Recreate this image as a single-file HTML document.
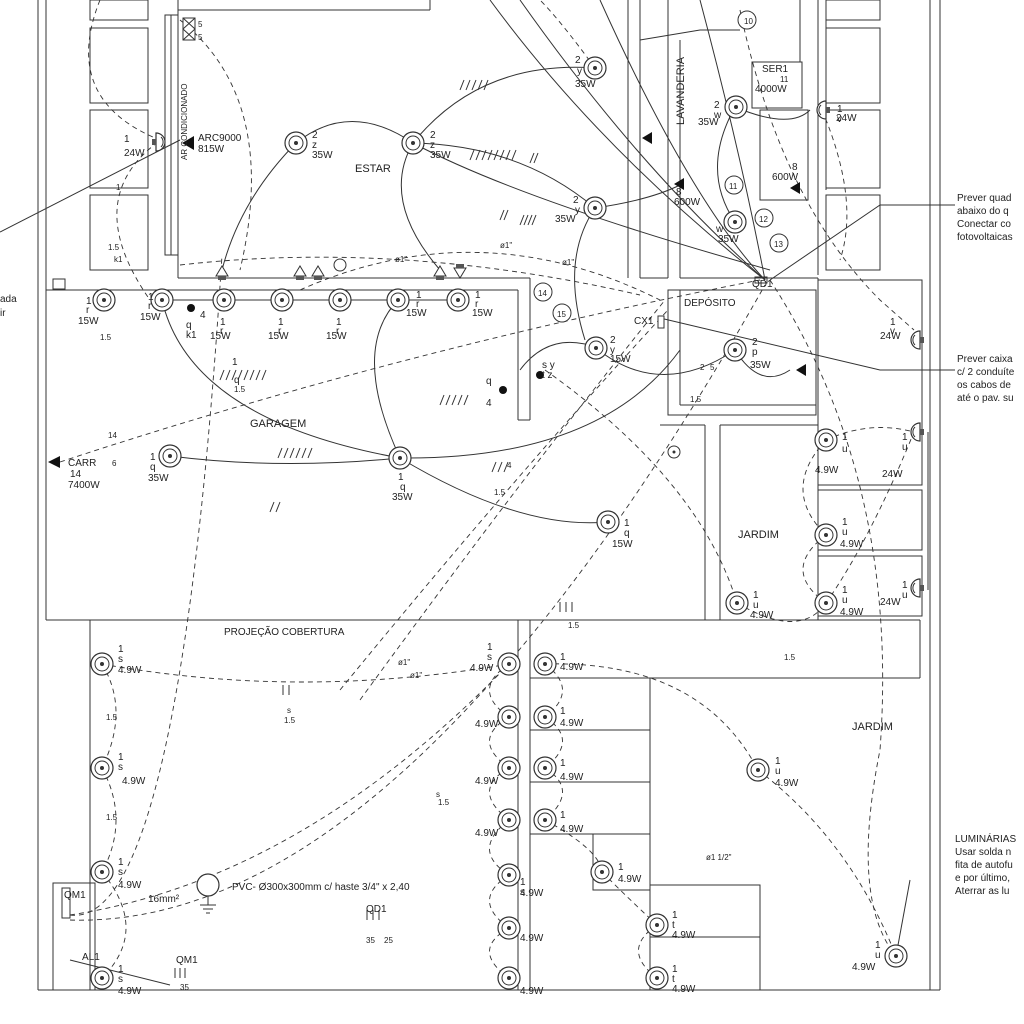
<!DOCTYPE html>
<html><head><meta charset="utf-8"><style>
html,body{margin:0;padding:0;background:#fff;}
svg{display:block;font-family:"Liberation Sans",sans-serif;}
text{fill:#222;font-size:10px;}
.s{font-size:8px;}
.l{font-size:11px;}
</style></head><body>
<svg width="1024" height="1024" viewBox="0 0 1024 1024" xmlns="http://www.w3.org/2000/svg">
<defs>
<g id="f"><circle r="11" fill="#fff" stroke="#333" stroke-width="1.2"/><circle r="7" fill="none" stroke="#333"/><circle r="2" fill="#333"/></g>
<g id="w"><path d="M0,-9 A9,9 0 0 0 0,9 Z" fill="#fff" stroke="#333" stroke-width="1.2"/><path d="M-5,-5 A7,7 0 0 0 -5,5" fill="none" stroke="#333"/><rect x="0" y="-3" width="4" height="6" fill="#555"/></g>
<g id="t"><path d="M-6,0 L0,-10 L6,0 Z" fill="#fff" stroke="#333"/><rect x="-4" y="0" width="8" height="4" fill="#555"/></g>
</defs>
<g fill="none" stroke="#333" stroke-width="1">
<!-- outer walls -->
<line x1="38" y1="0" x2="38" y2="990"/><line x1="46" y1="0" x2="46" y2="620"/>
<line x1="930" y1="0" x2="930" y2="990"/><line x1="940" y1="0" x2="940" y2="990"/>
<line x1="38" y1="990" x2="940" y2="990"/>
<!-- left rooms top -->
<rect x="90" y="0" width="58" height="20"/><rect x="90" y="28" width="58" height="75"/>
<rect x="90" y="110" width="58" height="78"/><rect x="90" y="195" width="58" height="75"/>
<rect x="165" y="15" width="13" height="240"/><line x1="171" y1="15" x2="171" y2="255"/>
<line x1="178" y1="0" x2="178" y2="278"/><line x1="178" y1="278" x2="530" y2="278"/>
<line x1="178" y1="0" x2="178" y2="10"/><line x1="430" y1="0" x2="430" y2="10"/><line x1="178" y1="10" x2="430" y2="10"/>
<line x1="46" y1="290" x2="518" y2="290"/>
<line x1="518" y1="290" x2="518" y2="420"/><line x1="530" y1="278" x2="530" y2="420"/><line x1="518" y1="420" x2="530" y2="420"/>
<line x1="628" y1="0" x2="628" y2="278"/><line x1="640" y1="0" x2="640" y2="278"/>
<line x1="668" y1="0" x2="668" y2="278"/><line x1="680" y1="40" x2="680" y2="278"/>
<line x1="640" y1="278" x2="668" y2="278"/>
<rect x="752" y="62" width="50" height="46"/><rect x="760" y="110" width="48" height="90"/>
<line x1="800" y1="0" x2="800" y2="62"/><line x1="818" y1="0" x2="818" y2="275"/><line x1="826" y1="0" x2="826" y2="190"/>
<rect x="826" y="0" width="54" height="20"/><rect x="826" y="28" width="54" height="75"/><rect x="826" y="110" width="54" height="78"/><rect x="826" y="195" width="54" height="75"/>
<line x1="680" y1="278" x2="818" y2="278"/>
<rect x="668" y="290" width="148" height="125"/><line x1="680" y1="290" x2="680" y2="405"/><line x1="680" y1="405" x2="816" y2="405"/>
<line x1="720" y1="425" x2="720" y2="620"/><line x1="720" y1="425" x2="818" y2="425"/><line x1="818" y1="278" x2="818" y2="620"/>
<line x1="660" y1="425" x2="705" y2="425"/><line x1="705" y1="425" x2="705" y2="620"/>
<rect x="818" y="280" width="104" height="205"/><rect x="818" y="490" width="104" height="60"/><rect x="818" y="556" width="104" height="60"/>
<line x1="46" y1="620" x2="920" y2="620"/><line x1="90" y1="620" x2="90" y2="990"/>
<line x1="920" y1="620" x2="920" y2="678"/><line x1="530" y1="678" x2="920" y2="678"/>
<line x1="518" y1="620" x2="518" y2="990"/><line x1="530" y1="620" x2="530" y2="990"/>
<rect x="530" y="678" width="120" height="52"/><rect x="530" y="730" width="120" height="52"/><rect x="530" y="782" width="120" height="52"/>
<rect x="593" y="834" width="57" height="56"/><line x1="650" y1="678" x2="650" y2="990"/>
<rect x="650" y="885" width="110" height="52"/><rect x="650" y="937" width="110" height="53"/>
<rect x="53" y="883" width="42" height="107"/><rect x="62" y="888" width="8" height="30"/>
<rect x="755" y="277" width="12" height="6"/>
<rect x="53" y="279" width="12" height="10"/>
</g>
<!-- solid circuits -->
<g fill="none" stroke="#333" stroke-width="1">
<path d="M296,143 Q350,100 413,143"/><path d="M296,143 Q240,200 222,270"/>
<path d="M413,143 Q520,145 595,208"/><path d="M413,143 Q520,200 770,270"/>
<path d="M413,143 Q380,200 440,270"/><path d="M413,143 Q480,60 595,68"/>
<path d="M595,208 Q650,200 680,185"/><path d="M595,208 Q560,260 585,340"/>
<path d="M162,300 Q190,420 400,458"/><path d="M400,458 Q350,350 398,300"/>
<path d="M400,458 Q520,530 608,522"/><path d="M400,458 Q600,460 680,350"/>
<path d="M170,456 Q280,470 400,458"/><path d="M162,300 L458,300"/>
<path d="M596,348 Q660,400 735,350"/><path d="M735,350 Q760,390 790,370"/>
<path d="M735,107 Q700,170 735,222"/><path d="M735,107 Q790,130 810,110"/>
<path d="M520,370 Q550,330 598,348"/>
<path d="M0,232 L180,140"/>
<path d="M770,280 L880,205 L955,205"/><path d="M660,318 L880,370 L955,370"/>
<path d="M896,956 L910,880"/>
<path d="M490,0 Q600,150 765,280"/><path d="M520,0 Q640,170 765,280"/><path d="M600,0 Q690,200 765,280"/><path d="M700,0 Q740,150 765,280"/>
<path d="M640,40 L700,30 L740,30"/><path d="M70,960 L170,985"/>
</g>
<!-- dashed circuits -->
<g fill="none" stroke="#333" stroke-width="0.9" stroke-dasharray="5,4">
<path d="M180,265 Q400,240 640,295"/><path d="M300,290 Q480,210 660,300"/>
<path d="M60,462 Q400,350 760,280"/><path d="M360,700 Q520,480 665,300"/>
<path d="M340,690 Q520,470 668,310"/><path d="M70,920 Q400,930 765,285"/>
<path d="M70,915 Q300,880 509,664"/><path d="M102,664 Q300,700 509,664"/>
<path d="M102,664 Q130,710 102,768"/><path d="M102,768 Q130,820 102,872"/>
<path d="M102,872 Q150,930 102,978"/><path d="M70,915 Q180,930 222,255"/>
<path d="M509,664 Q470,690 509,717"/><path d="M509,717 Q470,740 509,768"/><path d="M509,768 Q470,790 509,820"/><path d="M509,820 Q470,850 509,875"/><path d="M509,875 Q470,900 509,928"/><path d="M509,928 Q470,950 509,978"/>
<path d="M545,664 Q580,690 545,717"/><path d="M545,717 Q580,740 545,768"/><path d="M545,768 Q580,790 545,820"/>
<path d="M545,820 Q600,850 602,872"/><path d="M602,872 Q630,900 657,925"/><path d="M657,925 Q620,950 657,978"/>
<path d="M545,664 Q700,660 758,770"/><path d="M758,770 Q850,840 896,956"/>
<path d="M545,370 Q700,480 737,603"/><path d="M737,603 Q800,640 826,603"/>
<path d="M826,440 Q780,490 826,535"/><path d="M826,535 Q780,570 826,603"/>
<path d="M826,440 Q870,420 914,432"/><path d="M826,603 Q870,540 914,432"/>
<path d="M770,280 Q900,480 880,750 Q850,900 896,956"/>
<path d="M740,10 Q780,200 880,300 L914,330"/>
<path d="M100,0 Q60,100 160,140"/><path d="M180,20 Q280,100 240,270"/>
<path d="M158,142 Q80,200 150,300"/>
<path d="M595,68 Q560,20 540,0"/>
<path d="M822,110 Q860,200 840,260"/>
</g>
<line x1="928" y1="432" x2="928" y2="590" stroke="#333"/>
<!-- fixtures -->
<g>
<use href="#f" x="296" y="143"/><use href="#f" x="413" y="143"/><use href="#f" x="595" y="68"/><use href="#f" x="595" y="208"/>
<use href="#f" x="736" y="107"/><use href="#f" x="735" y="222"/>
<use href="#f" x="162" y="300"/><use href="#f" x="224" y="300"/><use href="#f" x="282" y="300"/><use href="#f" x="340" y="300"/><use href="#f" x="398" y="300"/><use href="#f" x="458" y="300"/>
<use href="#f" x="104" y="300"/>
<use href="#f" x="400" y="458"/><use href="#f" x="170" y="456"/><use href="#f" x="608" y="522"/><use href="#f" x="596" y="348"/><use href="#f" x="735" y="350"/>
<use href="#f" x="826" y="440"/><use href="#f" x="826" y="535"/><use href="#f" x="826" y="603"/><use href="#f" x="737" y="603"/>
<use href="#f" x="102" y="664"/><use href="#f" x="102" y="768"/><use href="#f" x="102" y="872"/><use href="#f" x="102" y="978"/>
<use href="#f" x="509" y="664"/><use href="#f" x="509" y="717"/><use href="#f" x="509" y="768"/><use href="#f" x="509" y="820"/><use href="#f" x="509" y="875"/><use href="#f" x="509" y="928"/><use href="#f" x="509" y="978"/>
<use href="#f" x="545" y="664"/><use href="#f" x="545" y="717"/><use href="#f" x="545" y="768"/><use href="#f" x="545" y="820"/>
<use href="#f" x="602" y="872"/><use href="#f" x="657" y="925"/><use href="#f" x="657" y="978"/>
<use href="#f" x="758" y="770"/><use href="#f" x="896" y="956"/>
<use href="#w" x="164" y="142" transform="rotate(180 160 142)"/>
<use href="#w" x="920" y="340"/><use href="#w" x="920" y="432"/><use href="#w" x="920" y="588"/><use href="#w" x="826" y="110"/>
<use href="#t" x="222" y="276"/><use href="#t" x="440" y="276"/><use href="#t" x="460" y="276" transform="rotate(180 460 272)"/><use href="#t" x="300" y="276"/><use href="#t" x="318" y="276"/>
<circle cx="340" cy="265" r="6" fill="#fff" stroke="#333"/>
<circle cx="191" cy="308" r="4" fill="#111"/><circle cx="503" cy="390" r="4" fill="#111"/><circle cx="540" cy="375" r="4" fill="#111"/>
<circle cx="674" cy="452" r="6" fill="#fff" stroke="#333"/><circle cx="674" cy="452" r="1.5" fill="#333"/>
<circle cx="208" cy="885" r="11" fill="#fff" stroke="#333" stroke-width="1.2"/>
<path d="M208,896 L208,905 M200,905 L216,905 M203,909 L213,909 M206,913 L210,913" stroke="#333"/>
<path d="M182,143 L194,136 L194,150 Z" fill="#111"/><path d="M48,462 L60,456 L60,468 Z" fill="#111"/>
<path d="M642,138 L652,132 L652,144 Z" fill="#111"/><path d="M674,184 L684,178 L684,190 Z" fill="#111"/>
<path d="M796,370 L806,364 L806,376 Z" fill="#111"/><path d="M790,188 L800,182 L800,194 Z" fill="#111"/>
<rect x="183" y="18" width="12" height="22" fill="#fff" stroke="#333"/><path d="M183,18 L195,29 L183,40 M195,18 L183,29 L195,40" stroke="#333" fill="none"/>
<rect x="658" y="316" width="6" height="12" fill="#fff" stroke="#333"/>
<circle cx="747" cy="20" r="9" fill="#fff" stroke="#333"/><circle cx="734" cy="185" r="9" fill="#fff" stroke="#333"/><circle cx="764" cy="218" r="9" fill="#fff" stroke="#333"/><circle cx="779" cy="243" r="9" fill="#fff" stroke="#333"/><circle cx="543" cy="292" r="9" fill="#fff" stroke="#333"/><circle cx="562" cy="313" r="9" fill="#fff" stroke="#333"/>
</g>
<!-- tick marks -->
<g stroke="#333" stroke-width="1">
<path d="M470,160 l4,-10 M476,160 l4,-10 M482,160 l4,-10 M488,160 l4,-10 M494,160 l4,-10 M500,160 l4,-10 M506,160 l4,-10 M512,160 l4,-10 M530,163 l4,-10 M534,163 l4,-10"/>
<path d="M500,220 l4,-10 M504,220 l4,-10 M520,225 l4,-10 M524,225 l4,-10 M528,225 l4,-10 M532,225 l4,-10"/>
<path d="M220,380 l4,-10 M226,380 l4,-10 M232,380 l4,-10 M238,380 l4,-10 M244,380 l4,-10 M250,380 l4,-10 M256,380 l4,-10 M262,380 l4,-10"/>
<path d="M278,458 l4,-10 M284,458 l4,-10 M290,458 l4,-10 M296,458 l4,-10 M302,458 l4,-10 M308,458 l4,-10"/>
<path d="M440,405 l4,-10 M446,405 l4,-10 M452,405 l4,-10 M458,405 l4,-10 M464,405 l4,-10"/>
<path d="M492,472 l4,-10 M498,472 l4,-10 M504,472 l4,-10"/>
<path d="M460,90 l4,-10 M466,90 l4,-10 M472,90 l4,-10 M478,90 l4,-10 M484,90 l4,-10"/>
<path d="M283,695 l0,-10 M289,695 l0,-10 M367,920 l0,-10 M373,920 l0,-10 M379,920 l0,-10 M175,978 l0,-10 M180,978 l0,-10 M185,978 l0,-10"/>
<path d="M560,612 l0,-10 M566,612 l0,-10 M572,612 l0,-10 M270,512 l4,-10 M276,512 l4,-10"/>
</g>
<!-- labels -->
<g>
<text x="198" y="27" class="s">5</text><text x="198" y="40" class="s">5</text>
<text x="198" y="141">ARC9000</text><text x="198" y="152">815W</text>
<text x="124" y="142">1</text><text x="124" y="156">24W</text>
<text transform="translate(187,160) rotate(-90)" class="s">AR CONDICIONADO</text>
<text x="312" y="138">2</text><text x="312" y="148">z</text><text x="312" y="158">35W</text>
<text x="430" y="138">2</text><text x="430" y="148">z</text><text x="430" y="158">35W</text>
<text x="575" y="63">2</text><text x="577" y="74">y</text><text x="575" y="87">35W</text>
<text x="573" y="203">2</text><text x="575" y="213">y</text><text x="555" y="222">35W</text>
<text x="355" y="172" class="l">ESTAR</text>
<text transform="translate(684,125) rotate(-90)" class="l">LAVANDERIA</text>
<text x="762" y="72">SER1</text><text x="780" y="82" class="s">11</text><text x="755" y="92">4000W</text>
<text x="714" y="108">2</text><text x="714" y="118">w</text><text x="698" y="125">35W</text>
<text x="837" y="112">1</text><text x="837" y="122">v</text><text x="836" y="122"></text><text x="836" y="122"></text><text x="836" y="123"> </text><text x="836" y="122"></text>
<text x="836" y="122"></text><text x="836" y="122"></text><text x="836" y="122"></text><text x="836" y="123"></text>
<text x="836" y="122"></text>
<text x="836" y="122"></text>
<text x="836" y="122"></text>
<text x="836" y="122"></text>
<text x="836" y="122"></text>
<text x="836" y="122"></text>
<text x="836" y="121">24W</text>
<text x="792" y="170">8</text><text x="772" y="180">600W</text>
<text x="676" y="195">8</text><text x="674" y="205">600W</text>
<text x="716" y="232">w</text><text x="718" y="242">35W</text>
<text x="744" y="24" class="s">10</text><text x="729" y="189" class="s">11</text><text x="759" y="222" class="s">12</text><text x="774" y="247" class="s">13</text><text x="538" y="296" class="s">14</text><text x="557" y="317" class="s">15</text>
<text x="752" y="287">QD1</text><text x="684" y="306">DEPÓSITO</text><text x="634" y="324">CX1</text>
<text x="395" y="262" class="s">ø1"</text><text x="500" y="248" class="s">ø1"</text><text x="562" y="265" class="s">ø1"</text>
<text x="86" y="304">1</text><text x="86" y="313">r</text><text x="78" y="324">15W</text>
<text x="148" y="300">1</text><text x="148" y="309">r</text><text x="140" y="320">15W</text>
<text x="220" y="325">1</text><text x="220" y="334">r</text><text x="210" y="339">15W</text>
<text x="278" y="325">1</text><text x="278" y="334">r</text><text x="268" y="339">15W</text>
<text x="336" y="325">1</text><text x="336" y="334">r</text><text x="326" y="339">15W</text>
<text x="416" y="298">1</text><text x="416" y="307">r</text><text x="406" y="316">15W</text>
<text x="475" y="298">1</text><text x="475" y="307">r</text><text x="472" y="316">15W</text>
<text x="186" y="328">q</text><text x="186" y="338">k1</text><text x="200" y="318">4</text>
<text x="232" y="365">1</text><text x="234" y="383">q</text><text x="234" y="392" class="s">1.5</text>
<text x="250" y="427" class="l">GARAGEM</text>
<text x="68" y="466">CARR</text><text x="70" y="477">14</text><text x="68" y="488">7400W</text>
<text x="150" y="460">1</text><text x="150" y="470">q</text><text x="148" y="481">35W</text>
<text x="398" y="480">1</text><text x="400" y="490">q</text><text x="392" y="500">35W</text>
<text x="624" y="526">1</text><text x="624" y="536">q</text><text x="612" y="547">15W</text>
<text x="610" y="343">2</text><text x="610" y="353">y</text><text x="610" y="362">15W</text>
<text x="752" y="345">2</text><text x="752" y="355">p</text><text x="750" y="368">35W</text>
<text x="486" y="384">q</text><text x="486" y="406">4</text><text x="542" y="368">s y</text><text x="542" y="378">t z</text>
<text x="738" y="538" class="l">JARDIM</text>
<text x="842" y="440">1</text><text x="842" y="452">u</text><text x="815" y="473">4.9W</text>
<text x="902" y="440">1</text><text x="902" y="450">u</text><text x="882" y="477">24W</text>
<text x="842" y="525">1</text><text x="842" y="535">u</text><text x="840" y="547">4.9W</text>
<text x="842" y="593">1</text><text x="842" y="603">u</text><text x="840" y="615">4.9W</text>
<text x="902" y="588">1</text><text x="902" y="598">u</text><text x="880" y="605">24W</text>
<text x="753" y="598">1</text><text x="753" y="608">u</text><text x="750" y="618">4.9W</text>
<text x="890" y="325">1</text><text x="890" y="334">v</text><text x="880" y="339">24W</text>
<text x="224" y="635">PROJEÇÃO COBERTURA</text>
<text x="118" y="652">1</text><text x="118" y="662">s</text><text x="118" y="673">4.9W</text>
<text x="118" y="760">1</text><text x="118" y="770">s</text><text x="122" y="784">4.9W</text>
<text x="118" y="865">1</text><text x="118" y="875">s</text><text x="118" y="888">4.9W</text>
<text x="118" y="972">1</text><text x="118" y="982">s</text><text x="118" y="994">4.9W</text>
<text x="487" y="650">1</text><text x="487" y="660">s</text><text x="470" y="671">4.9W</text>
<text x="475" y="727">4.9W</text><text x="475" y="784">4.9W</text><text x="475" y="836">4.9W</text>
<text x="520" y="885">1</text><text x="520" y="895">s</text><text x="520" y="895"></text><text x="520" y="895"></text><text x="520" y="894"></text><text x="520" y="895"></text>
<text x="520" y="897"></text><text x="518" y="896"></text><text x="518" y="896"></text><text x="518" y="896"></text>
<text x="519" y="896"></text><text x="522" y="896"></text>
<text x="520" y="896"></text>
<text x="521" y="896"></text>
<text x="520" y="896">4.9W</text>
<text x="520" y="941">4.9W</text><text x="520" y="994">4.9W</text>
<text x="560" y="660">1</text><text x="560" y="670">4.9W</text>
<text x="560" y="714">1</text><text x="560" y="726">4.9W</text>
<text x="560" y="766">1</text><text x="560" y="780">4.9W</text>
<text x="560" y="818">1</text><text x="560" y="832">4.9W</text>
<text x="618" y="870">1</text><text x="618" y="882">4.9W</text>
<text x="672" y="918">1</text><text x="672" y="928">t</text><text x="672" y="938">4.9W</text>
<text x="672" y="972">1</text><text x="672" y="982">t</text><text x="672" y="992">4.9W</text>
<text x="852" y="730" class="l">JARDIM</text>
<text x="775" y="764">1</text><text x="775" y="774">u</text><text x="775" y="786">4.9W</text>
<text x="875" y="948">1</text><text x="875" y="958">u</text><text x="852" y="970">4.9W</text>
<text x="706" y="860" class="s">ø1 1/2"</text>
<text x="398" y="665" class="s">ø1"</text><text x="410" y="678" class="s">ø1"</text>
<text x="232" y="890">PVC- Ø300x300mm c/ haste 3/4" x 2,40</text>
<text x="148" y="902">16mm²</text>
<text x="366" y="912">QD1</text><text x="366" y="943" class="s">35</text><text x="384" y="943" class="s">25</text>
<text x="64" y="898">QM1</text><text x="82" y="960">AL1</text>
<text x="176" y="963">QM1</text><text x="180" y="990" class="s">35</text>
<text x="287" y="713" class="s">s</text><text x="284" y="723" class="s">1.5</text>
<text x="436" y="797" class="s">s</text><text x="438" y="805" class="s">1.5</text>
<text x="568" y="628" class="s">1.5</text>
<text x="0" y="302">ada</text><text x="0" y="316">ir</text>
<text x="957" y="201">Prever quad</text><text x="957" y="214">abaixo do q</text><text x="957" y="227">Conectar co</text><text x="957" y="240">fotovoltaicas</text>
<text x="957" y="362">Prever caixa</text><text x="957" y="375">c/ 2 conduíte</text><text x="957" y="388">os cabos de</text><text x="957" y="401">até o pav. su</text>
<text x="955" y="842">LUMINÁRIAS</text><text x="955" y="855">Usar solda n</text><text x="955" y="868">fita de autofu</text><text x="955" y="881">e por último,</text><text x="955" y="894">Aterrar as lu</text>
<text x="116" y="190" class="s">1</text><text x="108" y="250" class="s">1.5</text><text x="114" y="262" class="s">k1</text>
<text x="100" y="340" class="s">1.5</text><text x="108" y="438" class="s">14</text><text x="112" y="466" class="s">6</text>
<text x="494" y="495" class="s">1.5</text><text x="507" y="468" class="s">4</text>
<text x="690" y="402" class="s">1.5</text><text x="700" y="370" class="s">2</text><text x="710" y="370" class="s">5</text>
<text x="784" y="660" class="s">1.5</text><text x="106" y="720" class="s">1.5</text><text x="106" y="820" class="s">1.5</text>
</g>
</svg>
</body></html>
